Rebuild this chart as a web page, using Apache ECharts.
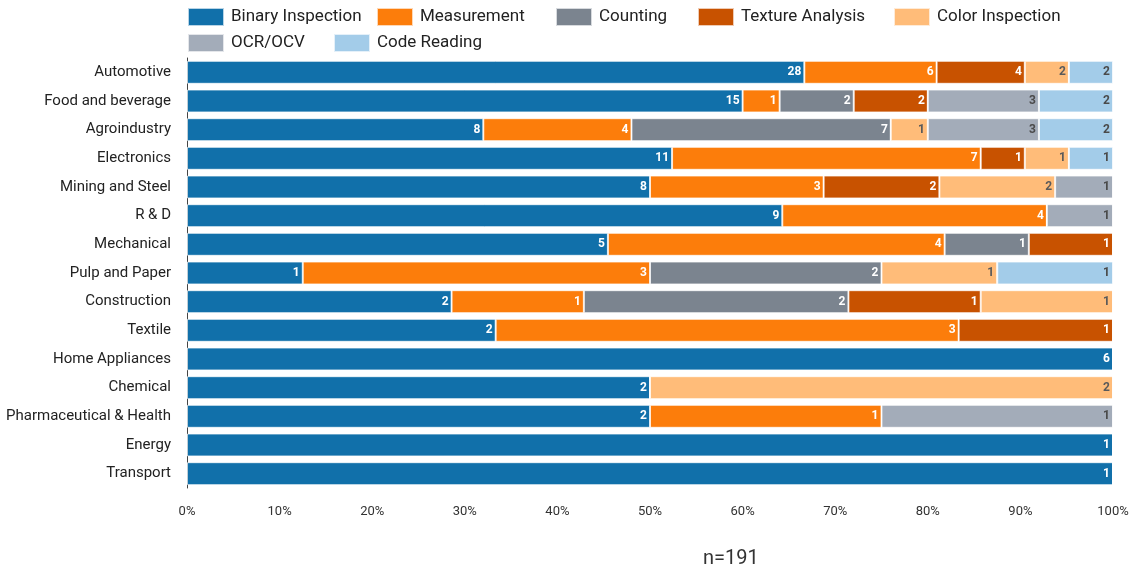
<!DOCTYPE html>
<html>
<head>
<meta charset="UTF-8">
<title>Inspection types by sector</title>
<script src="https://cdn.jsdelivr.net/npm/echarts@6/dist/echarts.min.js"></script>
<style>
  body { margin: 0; padding: 0; background: #fff; }
  #app { width: 1145px; height: 575px; }
</style>
</head>
<body>
<div id="app"></div>
<script>
  // sectors, top to bottom
  const sectors = ['Automotive', 'Food and beverage', 'Agroindustry', 'Electronics', 'Mining and Steel', 'R & D',
    'Mechanical', 'Pulp and Paper', 'Construction', 'Textile', 'Home Appliances', 'Chemical',
    'Pharmaceutical & Health', 'Energy', 'Transport'];

  // counts per inspection type (same order as sectors)
  const binaryInspection = [28, 15, 8, 11, 8, 9, 5, 1, 2, 2, 6, 2, 2, 1, 1];
  const measurement      = [6, 1, 4, 7, 3, 4, 4, 3, 1, 3, 0, 0, 1, 0, 0];
  const counting         = [0, 2, 7, 0, 0, 0, 1, 2, 2, 0, 0, 0, 0, 0, 0];
  const textureAnalysis  = [4, 2, 0, 1, 2, 0, 1, 0, 1, 1, 0, 0, 0, 0, 0];
  const colorInspection  = [2, 0, 1, 1, 2, 0, 0, 1, 1, 0, 0, 2, 0, 0, 0];
  const ocrOcv           = [0, 3, 3, 0, 1, 1, 0, 0, 0, 0, 0, 0, 1, 0, 0];
  const codeReading      = [2, 2, 2, 1, 0, 0, 0, 1, 0, 0, 0, 0, 0, 0, 0];

  const xTicks = [0, 10, 20, 30, 40, 50, 60, 70, 80, 90, 100];

  const types = [
    { name: 'Binary Inspection', data: binaryInspection, color: '#1170aa', label: '#fff' },
    { name: 'Measurement', data: measurement, color: '#fc7d0b', label: '#fff' },
    { name: 'Counting', data: counting, color: '#7b848f', label: '#fff' },
    { name: 'Texture Analysis', data: textureAnalysis, color: '#c85200', label: '#fff' },
    { name: 'Color Inspection', data: colorInspection, color: '#ffbc79', label: '#5a5a5a' },
    { name: 'OCR/OCV', data: ocrOcv, color: '#a3acb9', label: '#4a4a4a' },
    { name: 'Code Reading', data: codeReading, color: '#a3cce9', label: '#4a4a4a' }
  ];

  // one legend per entry, placed like the original two-row legend
  const legendPos = [[187, 7], [376, 7], [555, 7], [697, 7], [893, 7], [187, 33], [333, 33]];

  // row totals for the 100% stacking
  const totals = sectors.map((s, i) => types.reduce((a, t) => a + t.data[i], 0));

  const series = types.map(t => ({
    name: t.name,
    type: 'bar',
    stack: 'all',
    barCategoryGap: '20%',
    itemStyle: { color: t.color, borderColor: 'rgba(255,255,255,0.7)', borderWidth: 1 },
    label: {
      show: true,
      position: 'insideRight',
      color: t.label,
      fontSize: 12,
      fontWeight: 'bold',
      fontFamily: 'Roboto',
      distance: 3,
      formatter: p => (t.data[p.dataIndex] > 0 ? String(t.data[p.dataIndex]) : '')
    },
    emphasis: { disabled: true },
    data: t.data.map((v, i) => v / totals[i] * 100)
  }));

  const legends = types.map((t, i) => ({
    left: legendPos[i][0],
    top: legendPos[i][1],
    padding: 0,
    itemWidth: 36,
    itemHeight: 18,
    itemGap: 6,
    icon: 'rect',
    textStyle: { fontSize: 17, color: '#222', fontFamily: 'Roboto', padding: [0, 0, 0, 2] },
    data: [t.name]
  }));

  const chart = echarts.init(document.getElementById('app'), null, { renderer: 'canvas' });
  chart.setOption({
    animation: false,
    textStyle: { fontFamily: 'Roboto' },
    color: types.map(t => t.color),
    title: {
      text: 'n=191',
      left: 698,
      top: 544,
      textStyle: { fontSize: 20, fontWeight: 'normal', color: '#333', fontFamily: 'Roboto' }
    },
    legend: legends,
    grid: { left: 187, right: 32, top: 58, bottom: 87, containLabel: false },
    xAxis: {
      type: 'value',
      min: xTicks[0],
      max: xTicks[xTicks.length - 1],
      interval: 10,
      axisLine: { show: false },
      axisTick: { show: false },
      splitLine: { show: false },
      axisLabel: { formatter: '{value}%', color: '#333', fontSize: 13, margin: 17 }
    },
    yAxis: {
      type: 'category',
      inverse: true,
      data: sectors,
      axisLine: { show: true, lineStyle: { color: '#444', width: 1 } },
      axisTick: { show: false },
      axisLabel: { color: '#222', fontSize: 15, margin: 16 }
    },
    series: series
  });
</script>
</body>
</html>
